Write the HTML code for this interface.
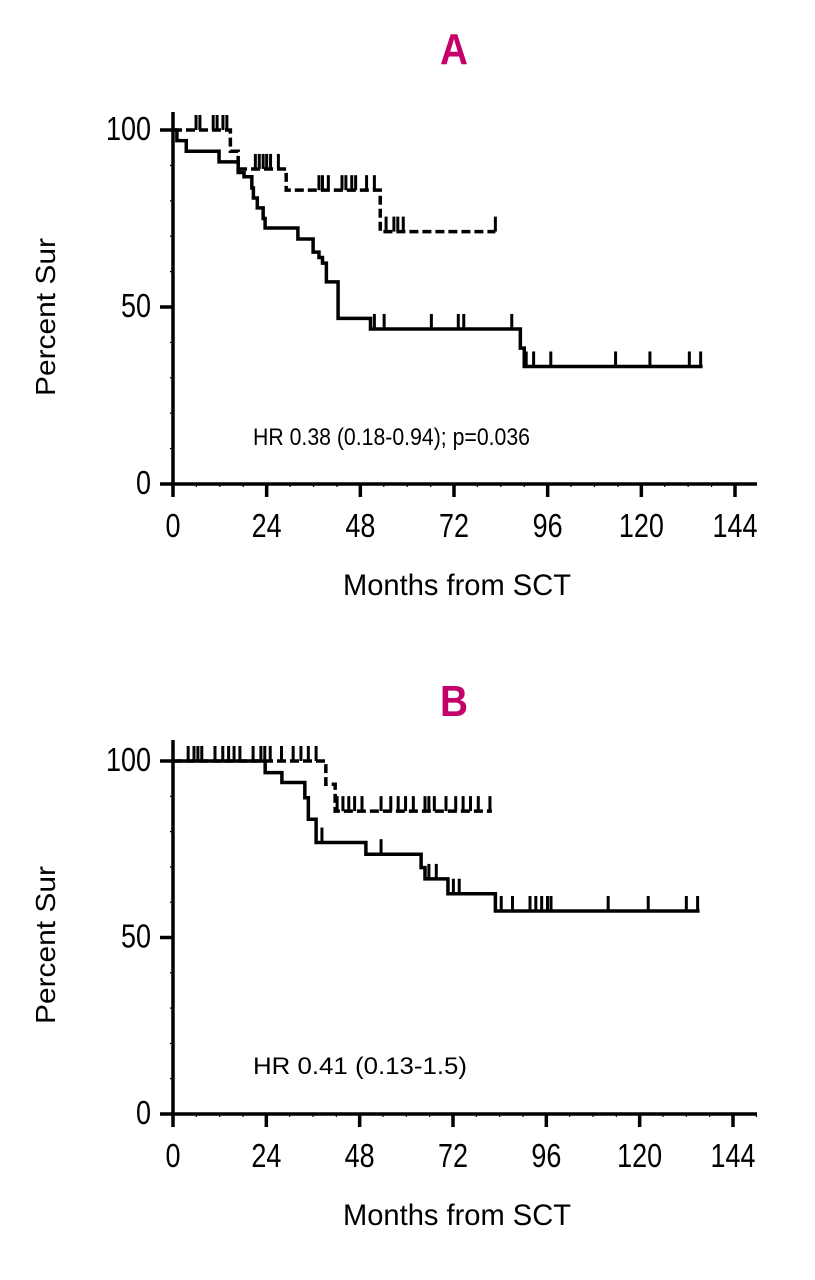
<!DOCTYPE html>
<html><head><meta charset="utf-8">
<style>
html,body{margin:0;padding:0;background:#fff;}
svg{display:block;font-family:"Liberation Sans",sans-serif;}
</style></head>
<body>
<svg id="chart" width="815" height="1280" viewBox="0 0 815 1280" xmlns="http://www.w3.org/2000/svg"></svg>
<script>
// ---- Panel A data ----
const xTicks = [0, 24, 48, 72, 96, 120, 144];
const yTicks = [0, 50, 100];
const aSolidTimes = [0, 1.0, 3.4, 11.8, 16.7, 18.2, 20.2, 20.6, 21.6, 23.1, 23.6, 32.0, 35.9, 37.4, 38.3, 39.3, 42.3, 50.6, 89.0, 90.0];
const aSolidVals  = [100, 97, 94, 91, 88, 86.8, 83.6, 80.8, 78, 75, 72.3, 69.2, 65.5, 64, 62.4, 57.1, 46.8, 43.8, 38.4, 33.2];
const aSolidEnd = 135.7;
const aSolidCens = [51.6, 54.1, 66.2, 73.1, 74.5, 86.8, 90.5, 92.4, 96.8, 113.4, 122.2, 132.3, 135.2];
const aDashTimes = [0, 14.7, 16.7, 29.0, 53.1];
const aDashVals  = [100, 94, 89, 83, 71.3];
const aDashEnd = 82.6;
const aDashCens = [5.9, 6.9, 10.3, 11.3, 12.8, 13.8, 21.1, 22.1, 23.1, 24.0, 25.0, 27.0, 37.4, 38.3, 39.8, 43.3, 44.3, 45.8, 46.8, 49.6, 51.6, 54.6, 56.6, 57.6, 59.0, 82.6];
// ---- Panel B data ----
const bSolidTimes = [0, 23.7, 28.0, 33.9, 34.8, 36.8, 49.6, 63.8, 64.8, 70.7, 82.9];
const bSolidVals  = [100, 96.7, 93.9, 89.6, 83.5, 76.9, 73.6, 69.8, 66.6, 62.4, 57.5];
const bSolidEnd = 135.4;
const bSolidCens = [38.3, 53.5, 65.8, 67.7, 72.1, 73.6, 84.4, 87.3, 91.8, 93.3, 94.8, 96.3, 97.2, 111.9, 122.2, 132.0, 134.9];
const bDashTimes = [0, 38.1, 39.3, 41.7];
const bDashVals  = [100, 100, 93.4, 85.8];
const bDashEnd = 82.0;
const bDashCens = [3.9, 5.4, 6.4, 7.4, 10.8, 12.8, 14.3, 15.7, 17.2, 20.6, 22.6, 23.6, 25.0, 27.9, 30.9, 32.9, 34.8, 36.8, 42.2, 43.7, 45.2, 46.7, 48.6, 53.5, 56.0, 57.9, 59.8, 61.8, 64.8, 65.8, 67.2, 70.2, 72.7, 74.6, 76.5, 78.5, 81.5];

const svg = document.getElementById('chart');
const NS = 'http://www.w3.org/2000/svg';
function mk(tag, attrs, parent){ const e=document.createElementNS(NS,tag); for(const k in attrs) e.setAttribute(k,attrs[k]); (parent||svg).appendChild(e); return e; }

function stepVal(times, vals, t){ let v=vals[0]; for(let i=0;i<times.length;i++){ if(times[i]<=t) v=vals[i]; } return v; }

function drawPanel(cfg){
  const g = mk('g',{});
  
  
  const X = m => cfg.x0 + m*(cfg.x1-cfg.x0)/144;
  const Y = v => cfg.y0 - v*(cfg.y0-cfg.y100)/100;
  const t = mk('text',{x:454,y:cfg.titleY,'text-anchor':'middle','font-size':44,'font-weight':'bold',fill:'#c4006a',textLength:28,lengthAdjust:'spacingAndGlyphs'},g);
  t.textContent = cfg.letter;
  
  
  const ax = mk('path',{d:`M${X(0)} ${cfg.axTop} V${cfg.y0} H${cfg.xEnd}`,stroke:'#000','stroke-width':3.5,fill:'none'},g);
  
  
  for(let v=0; v<=100; v+=10){ mk('line',{x1:X(0)-3,x2:X(0),y1:Y(v),y2:Y(v),stroke:'#000','stroke-width':1.2},g); }
  for(let m=0; m<=150; m+=6){ if(X(m)<=cfg.xEnd) mk('line',{x1:X(m),x2:X(m),y1:cfg.y0,y2:cfg.y0+3,stroke:'#000','stroke-width':1.2},g); }
  yTicks.forEach(v=>{
    mk('line',{x1:X(0)-13,x2:X(0),y1:Y(v),y2:Y(v),stroke:'#000','stroke-width':3.5},g);
    const w = String(v).length*15;
    const l=mk('text',{x:X(0)-22,y:Y(v)+10,'text-anchor':'end','font-size':33,textLength:w,lengthAdjust:'spacingAndGlyphs'},g);
    l.textContent=v;
    
    
  });
  xTicks.forEach(m=>{
    mk('line',{x1:X(m),x2:X(m),y1:cfg.y0,y2:cfg.y0+13,stroke:'#000','stroke-width':3.5},g);
    const w = String(m).length*15;
    const l=mk('text',{x:X(m),y:cfg.y0+53,'text-anchor':'middle','font-size':33,textLength:w,lengthAdjust:'spacingAndGlyphs'},g);
    l.textContent=m;
    
    
  });
  const yt=mk('text',{x:0,y:0,'text-anchor':'middle','font-size':28,textLength:158,lengthAdjust:'spacingAndGlyphs',transform:`translate(55 ${cfg.yTitleY}) rotate(-90)`},g);
  yt.textContent='Percent Sur';
  
  
  const xt=mk('text',{x:457,y:cfg.y0+111,'text-anchor':'middle','font-size':30,textLength:228,lengthAdjust:'spacingAndGlyphs'},g);
  xt.textContent='Months from SCT';
  
  
  const hr=mk('text',{x:253,y:cfg.hrY,'font-size':24,textLength:cfg.hrW,lengthAdjust:'spacingAndGlyphs'},g);
  hr.textContent=cfg.hr;
  
  
  function curve(times, vals, end, cens, dashed, name){
    let d=`M${X(times[0])} ${Y(vals[0])}`;
    for(let i=1;i<times.length;i++){ d+=` H${X(times[i])} V${Y(vals[i])}`; }
    d+=` H${X(end)}`;
    const p=mk('path',{d:d,stroke:'#000','stroke-width':3.5,fill:'none','stroke-dasharray':dashed?'9 4':'none'},g);
    
    
    cens.forEach(c=>{
      const yy=Y(stepVal(times,vals,c));
      const cm=mk('line',{x1:X(c),x2:X(c),y1:yy,y2:yy-15,stroke:'#000','stroke-width':3},g);
      
      
    });
  }
  curve(cfg.sT,cfg.sV,cfg.sE,cfg.sC,false,'solid-survival-curve');
  curve(cfg.dT,cfg.dV,cfg.dE,cfg.dC,true,'dashed-survival-curve');
}

drawPanel({name:'panel-a',letter:'A',titleY:64,x0:173,x1:735,xEnd:757,y0:484,y100:130,axTop:112,yTitleY:317,hrY:445,hrW:277,
  hr:'HR 0.38 (0.18-0.94); p=0.036',
  sT:aSolidTimes,sV:aSolidVals,sE:aSolidEnd,sC:aSolidCens,dT:aDashTimes,dV:aDashVals,dE:aDashEnd,dC:aDashCens});
drawPanel({name:'panel-b',letter:'B',titleY:716,x0:173,x1:733,xEnd:757,y0:1114,y100:761,axTop:740,yTitleY:945,hrY:1074,hrW:214,
  hr:'HR 0.41 (0.13-1.5)',
  sT:bSolidTimes,sV:bSolidVals,sE:bSolidEnd,sC:bSolidCens,dT:bDashTimes,dV:bDashVals,dE:bDashEnd,dC:bDashCens});
</script>
</body></html>
